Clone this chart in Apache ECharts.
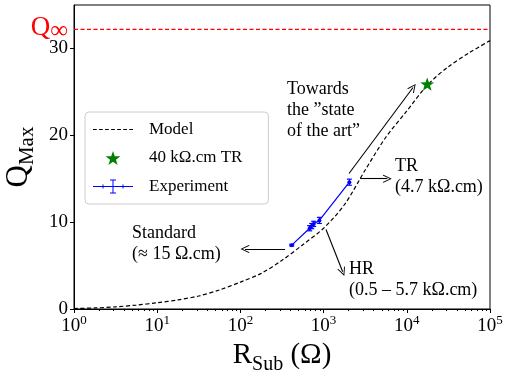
<!DOCTYPE html>
<html><head><meta charset="utf-8">
<script src="https://cdn.jsdelivr.net/npm/echarts@6/dist/echarts.min.js"></script>
<style>html,body{margin:0;padding:0;background:#fff}#c{width:505px;height:379px}</style>
</head><body><div id="c"></div>
<script>
// ---- data ----
const modelR = [1, 1.78, 3.16, 5.62, 10, 17.8, 31.6, 56.2, 100, 178, 316, 562, 1000, 1778, 3162, 5623, 10000, 17783, 31623, 56234, 100000];
const modelQ = [0.05, 0.12, 0.25, 0.45, 0.72, 1.05, 1.5, 2.2, 3.1, 4.1, 5.6, 7.4, 9.3, 12.0, 16.0, 19.8, 22.8, 25.8, 27.9, 29.5, 30.9];
const starR = [17600];
const starQ = [25.9];
const expR = [414, 680, 720, 760, 890, 2040];
const expQ = [7.35, 9.3, 9.55, 9.8, 10.2, 14.6];
const expQerr = [0.1, 0.3, 0.3, 0.3, 0.35, 0.35];
const expRerr = [8, 20, 20, 20, 15, 30];
const qInf = 32.2;
const xRange = [1, 100000];
const yTicks = [0, 10, 20, 30];
const xTicks = [1, 10, 100, 1000, 10000, 100000];
const arrows = [
  [[2020, 15.6], [11880, 25.5]],
  [[2750, 15.0], [5830, 15.0]],
  [[344, 6.9], [113.6, 6.9]],
  [[1069, 9.16], [1695, 4.29]]
];
const notes = [
  {at: [363, 22.9], text: 'Towards\nthe \u201dstate\nof the art\u201d'},
  {at: [7215, 15.2], text: 'TR\n(4.7 k\u03a9.cm)'},
  {at: [4.98, 7.47], text: 'Standard\n(\u2248 15 \u03a9.cm)'},
  {at: [2020, 3.33], text: 'HR\n(0.5 \u2013 5.7 k\u03a9.cm)'}
];
// ----
const FONT = 'Liberation Serif';
const minor = [];
for (let d = 1; d < 100000; d *= 10) for (let k = 2; k <= 9; k++) minor.push(k * d);
const star = 'path://M12,0 L14.9,8.5 L24,8.7 L16.8,14.1 L19.4,22.8 L12,17.6 L4.6,22.8 L7.2,14.1 L0,8.7 L9.1,8.5 Z';
const expIcon = 'path://M0,6.5 L40,6.5 L40,7.5 L0,7.5 Z M19.5,0 L20.5,0 L20.5,14 L19.5,14 Z M17,0 L23,0 L23,1 L17,1 Z M17,13 L23,13 L23,14 L17,14 Z M9.5,5 L10.5,5 L10.5,9 L9.5,9 Z M29.5,5 L30.5,5 L30.5,9 L29.5,9 Z';
let dash = 'path://';
for (let x = 0; x < 40; x += 6.5) dash += 'M' + x + ',6.4 L' + (x + 4) + ',6.4 L' + (x + 4) + ',7.6 L' + x + ',7.6 Z ';
dash += 'M0,0 L0.01,0 L0.01,0.01 Z M40,14 L39.99,14 L39.99,13.99 Z';
const chevron = 'path://M0,10 L5,0 L10,10 L9,10.7 L5,2.4 L1,10.7 Z';

const chart = echarts.init(document.getElementById('c'));
chart.setOption({
  animation: false,
  textStyle: {fontFamily: FONT, color: '#000'},
  grid: {left: 74, right: 15, top: 5, bottom: 70, show: true, borderColor: '#000', borderWidth: 1,
    containLabel: false, outerBoundsMode: 'none'},
  legend: {
    left: 85, top: 112, orient: 'vertical', itemWidth: 40, itemHeight: 14, itemGap: 9.5,
    padding: [8, 26, 8, 8], backgroundColor: '#fff', borderColor: '#ccc', borderWidth: 1, borderRadius: 4,
    textStyle: {fontFamily: FONT, fontSize: 17, lineHeight: 19, color: '#000', padding: [0, 0, 0, 11]},
    data: [
      {name: 'Model', icon: dash},
      {name: '40 k\u03a9.cm TR', icon: star},
      {name: 'Experiment', icon: expIcon}
    ]
  },
  xAxis: [{
    type: 'log', logBase: 10, min: xRange[0], max: xRange[1],
    name: '{r|R}{s|Sub}{r| (\u03a9)}', nameLocation: 'middle', nameGap: 31,
    nameTextStyle: {rich: {
      r: {fontFamily: FONT, fontSize: 29, lineHeight: 34, verticalAlign: 'top', color: '#000'},
      s: {fontFamily: FONT, fontSize: 20, lineHeight: 20, verticalAlign: 'bottom', color: '#000'}
    }},
    axisLine: {lineStyle: {color: '#000', width: 1}},
    axisTick: {show: true, length: 4, lineStyle: {color: '#000'}, customValues: xTicks},
    splitLine: {show: false},
    axisLabel: {
      customValues: xTicks, margin: 5,
      formatter: v => '{b|10}{s|' + Math.round(Math.log10(v)) + '}',
      rich: {
        b: {fontFamily: FONT, fontSize: 19, color: '#000', lineHeight: 22, verticalAlign: 'bottom'},
        s: {fontFamily: FONT, fontSize: 13, color: '#000', lineHeight: 13, verticalAlign: 'top'}
      }
    }
  }, {
    type: 'log', logBase: 10, min: xRange[0], max: xRange[1], position: 'bottom',
    axisLine: {show: false}, axisLabel: {show: false}, splitLine: {show: false},
    axisTick: {show: true, length: 2, lineStyle: {color: '#000'}, customValues: minor}
  }],
  yAxis: {
    type: 'value', min: 0, max: 35,
    name: '{q|Q}{s|Max}', nameLocation: 'middle', nameRotate: 90, nameGap: 22,
    nameTextStyle: {rich: {
      q: {fontFamily: FONT, fontSize: 31, lineHeight: 35, verticalAlign: 'top', color: '#000'},
      s: {fontFamily: FONT, fontSize: 21, lineHeight: 21, verticalAlign: 'bottom', color: '#000'}
    }},
    axisLine: {show: true, lineStyle: {color: '#000', width: 1}},
    axisTick: {show: true, length: 4, lineStyle: {color: '#000'}, customValues: yTicks},
    axisLabel: {customValues: yTicks, fontFamily: FONT, fontSize: 19, color: '#000', margin: 6},
    splitLine: {show: false}
  },
  series: [
    {
      name: 'Model', type: 'line', data: modelR.map((r, i) => [r, modelQ[i]]),
      symbol: 'none', smooth: 0.3, lineStyle: {color: '#000', width: 1.2, type: [4, 2.5]},
      itemStyle: {color: '#000'}, silent: true, z: 3
    },
    {
      name: 'qinf', type: 'line', data: xRange.map(r => [r, qInf]), silent: true, z: 2,
      symbol: 'none', itemStyle: {color: '#ff0000'},
      lineStyle: {color: '#ff0000', type: [4, 2.5], width: 1.3},
      label: {show: false},
      markPoint: {
        silent: true, symbol: 'circle', symbolSize: 0,
        label: {show: true, position: [-6, 0], align: 'right', verticalAlign: 'middle',
          formatter: '{q|Q}{s|\u221e}',
          rich: {
            q: {fontFamily: FONT, fontSize: 27, lineHeight: 30, verticalAlign: 'top', color: '#ff0000'},
            s: {fontFamily: FONT, fontSize: 25, lineHeight: 22, verticalAlign: 'bottom', color: '#ff0000'}
          }},
        data: [{coord: [xRange[0], qInf], value: 0}]
      }
    },
    {
      name: '40 k\u03a9.cm TR', type: 'scatter', data: starR.map((r, i) => [r, starQ[i]]),
      symbol: star, symbolSize: 14, symbolKeepAspect: true, itemStyle: {color: '#008000', opacity: 1}, z: 5
    },
    {
      name: 'Experiment', type: 'line', data: expR.map((r, i) => [r, expQ[i]]),
      symbol: 'circle', symbolSize: 4, showSymbol: true,
      lineStyle: {color: '#0000ff', width: 1.2}, itemStyle: {color: '#0000ff'}, z: 4
    },
    {
      name: 'errbars', type: 'custom', z: 4, silent: true,
      data: expR.map((r, i) => [r, expQ[i], expRerr[i], expQerr[i]]),
      renderItem: (params, api) => {
        const r = api.value(0), q = api.value(1), dr = api.value(2), dq = api.value(3);
        const top = api.coord([r, q + dq]), bot = api.coord([r, q - dq]);
        const lft = api.coord([r - dr, q]), rgt = api.coord([r + dr, q]);
        const st = {stroke: '#0000ff', lineWidth: 1.2};
        return {type: 'group', children: [
          {type: 'line', shape: {x1: top[0], y1: top[1], x2: bot[0], y2: bot[1]}, style: st},
          {type: 'line', shape: {x1: top[0] - 2.5, y1: top[1], x2: top[0] + 2.5, y2: top[1]}, style: st},
          {type: 'line', shape: {x1: bot[0] - 2.5, y1: bot[1], x2: bot[0] + 2.5, y2: bot[1]}, style: st},
          {type: 'line', shape: {x1: lft[0], y1: lft[1], x2: rgt[0], y2: rgt[1]}, style: st}
        ]};
      }
    },
    {
      name: 'annot', type: 'scatter', data: [], silent: true, itemStyle: {color: '#000'},
      markLine: {
        silent: true, symbol: ['none', chevron], symbolSize: [8, 9],
        lineStyle: {color: '#000', type: 'solid', width: 1.1},
        itemStyle: {color: '#000'},
        label: {show: false}, emphasis: {disabled: true},
        data: arrows.map(a => [{coord: a[0]}, {coord: a[1]}])
      },
      markPoint: {
        silent: true, symbol: 'circle', symbolSize: 0,
        label: {show: true, position: [0, 0], align: 'left', verticalAlign: 'middle',
          fontFamily: FONT, fontSize: 18, lineHeight: 21, color: '#000'},
        data: notes.map(n => ({coord: n.at, value: 0, label: {formatter: n.text}}))
      }
    }
  ]
});
</script></body></html>
